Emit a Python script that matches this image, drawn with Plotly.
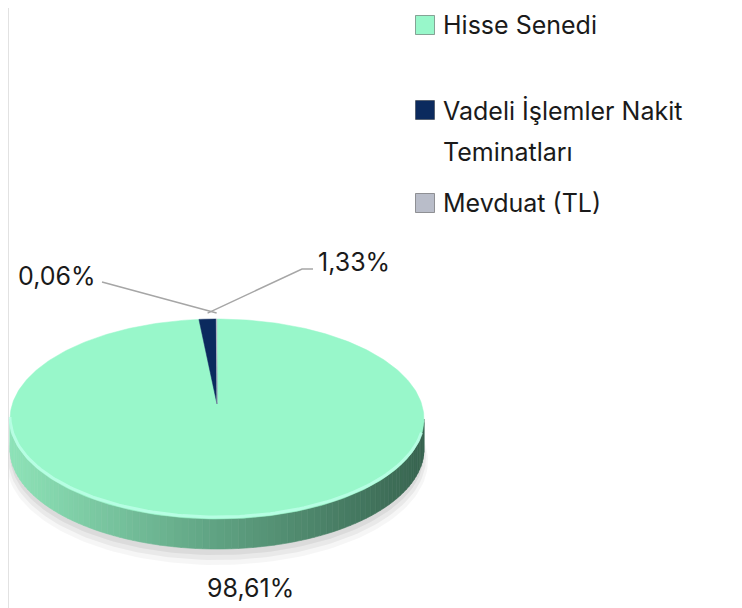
import numpy as np
import plotly.graph_objects as go

# ---- data ----
categories = ["Hisse Senedi", "Vadeli İşlemler Nakit Teminatları", "Mevduat (TL)"]
legend_lines = [["Hisse Senedi"], ["Vadeli İşlemler Nakit", "Teminatları"], ["Mevduat (TL)"]]
values = [98.61, 1.33, 0.06]
colors = ["#98F7CA", "#0B2A5E", "#B9BDC9"]

# ---- geometry / style (page pixel space) ----
W, H = 742, 608
PAGE_MARGIN = 8            # default body margin of the html page
CX, CY = 217, 419          # centre of top ellipse
A, B = 207, 100            # semi axes
APEX = (217, 404)          # visual apex of the slices
DEPTH = 30
FONT = "Inter"
FS_LAB = 25
FS_LEG = 25

def pt(theta, dy=0.0, scale=1.0):
    # theta: radians, clockwise from 12 o'clock
    return CX + A * scale * np.sin(theta), CY - B * scale * np.cos(theta) + dy

fig = go.Figure()

# shadow (mostly below the pie)
for grow, dy, op in [(4, 12, 0.035), (2, 9, 0.05), (0, 6, 0.06)]:
    t = np.linspace(0, 2 * np.pi, 200)
    x = CX + (A + grow) * np.sin(t)
    y = CY + DEPTH + dy - (B + grow) * np.cos(t)
    fig.add_trace(go.Scatter(x=x, y=y, mode="lines", fill="toself", line=dict(width=0),
                             fillcolor=f"rgba(0,0,0,{op})", hoverinfo="skip", showlegend=False))

# rim (front half) as shaded strips
def lerp(c1, c2, f):
    return tuple(int(round(c1[i] + (c2[i] - c1[i]) * f)) for i in range(3))

c_left, c_mid, c_right = (0x8E, 0xE3, 0xB8), (0x5F, 0xA2, 0x82), (0x38, 0x64, 0x50)
N = 90
th = np.linspace(np.pi / 2, 3 * np.pi / 2, N + 1)
for i in range(N):
    t = np.linspace(th[i], th[i + 1], 4)
    xt, yt = pt(t)
    xb, yb = pt(t[::-1], dy=DEPTH)
    xm = np.mean(xt)
    f = (xm - (CX - A)) / (2 * A)
    if f < 0.5:
        c = lerp(c_left, c_mid, f / 0.5)
    else:
        c = lerp(c_mid, c_right, (f - 0.5) / 0.5)
    col = "rgb(%d,%d,%d)" % c
    fig.add_trace(go.Scatter(x=np.r_[xt, xb, xt[0]], y=np.r_[yt, yb, yt[0]], mode="lines",
                             fill="toself", fillcolor=col, line=dict(width=0.6, color=col),
                             hoverinfo="skip", showlegend=False))

# top face slices
total = sum(values)
start = 0.0
mids = []
for v, c in zip(values, colors):
    a0 = start / total * 2 * np.pi
    a1 = (start + v) / total * 2 * np.pi
    t = np.linspace(a0, a1, max(3, int(v * 4)))
    x, y = pt(t)
    fig.add_trace(go.Scatter(x=np.r_[APEX[0], x, APEX[0]], y=np.r_[APEX[1], y, APEX[1]],
                             mode="lines", fill="toself", fillcolor=c,
                             line=dict(width=0.5, color=c), hoverinfo="skip", showlegend=False))
    mids.append((a0 + a1) / 2)
    start += v

# highlight along front edge of top face
t = np.linspace(np.pi * 0.55, np.pi * 1.5, 120)
x, y = pt(t, dy=-2)
fig.add_trace(go.Scatter(x=x, y=y, mode="lines", line=dict(width=3, color="rgba(190,255,232,0.8)"),
                         hoverinfo="skip", showlegend=False))

# ---- labels ----
def fmt(v):
    return ("%.2f" % v).replace(".", ",") + "%"

annotations = []
annotations.append(dict(x=250, y=588, text=fmt(values[0]), showarrow=False,
                        font=dict(family=FONT, size=FS_LAB, color="#1a1a1a"),
                        xanchor="center", yanchor="middle"))

label_pos = {1: (316, 262, "left", [(313, 269), (302, 269)]), 2: (98, 276, "right", [(102, 282)])}
for idx, (lx, ly, anc, bends) in label_pos.items():
    ex, ey = pt(mids[idx])
    ey -= 6
    pts = bends + [(ex, ey)]
    fig.add_trace(go.Scatter(x=[p[0] for p in pts], y=[p[1] for p in pts], mode="lines",
                             line=dict(color="#A6A6A6", width=1.5), hoverinfo="skip", showlegend=False))
    annotations.append(dict(x=lx, y=ly, text=fmt(values[idx]), showarrow=False,
                            font=dict(family=FONT, size=FS_LAB, color="#1a1a1a"),
                            xanchor=anc, yanchor="middle"))

# ---- legend (manual) ----
leg_y = [[25], [110, 152], [203]]
for lines, ys, c in zip(legend_lines, leg_y, colors):
    fig.add_trace(go.Scatter(x=[425], y=[ys[0]], mode="markers",
                             marker=dict(symbol="square", size=19, color=c,
                                         line=dict(width=1, color="rgba(0,0,0,0.35)")),
                             hoverinfo="skip", showlegend=False))
    for txt, yy in zip(lines, ys):
        annotations.append(dict(x=442, y=yy, text=txt, showarrow=False,
                                font=dict(family=FONT, size=FS_LEG, color="#1a1a1a"),
                                xanchor="left", yanchor="middle", borderpad=0))

fig.update_layout(
    width=W - PAGE_MARGIN, height=H - PAGE_MARGIN, margin=dict(l=0, r=0, t=0, b=0),
    paper_bgcolor="white", plot_bgcolor="white",
    xaxis=dict(range=[PAGE_MARGIN, W], visible=False, fixedrange=True),
    yaxis=dict(range=[H, PAGE_MARGIN], visible=False, fixedrange=True),
    annotations=annotations,
    shapes=[dict(type="line", xref="x", yref="y", x0=PAGE_MARGIN, x1=PAGE_MARGIN, y0=PAGE_MARGIN, y1=H,
                 line=dict(color="#D9D9D9", width=1.5))],
)

fig.write_html("out.html")
